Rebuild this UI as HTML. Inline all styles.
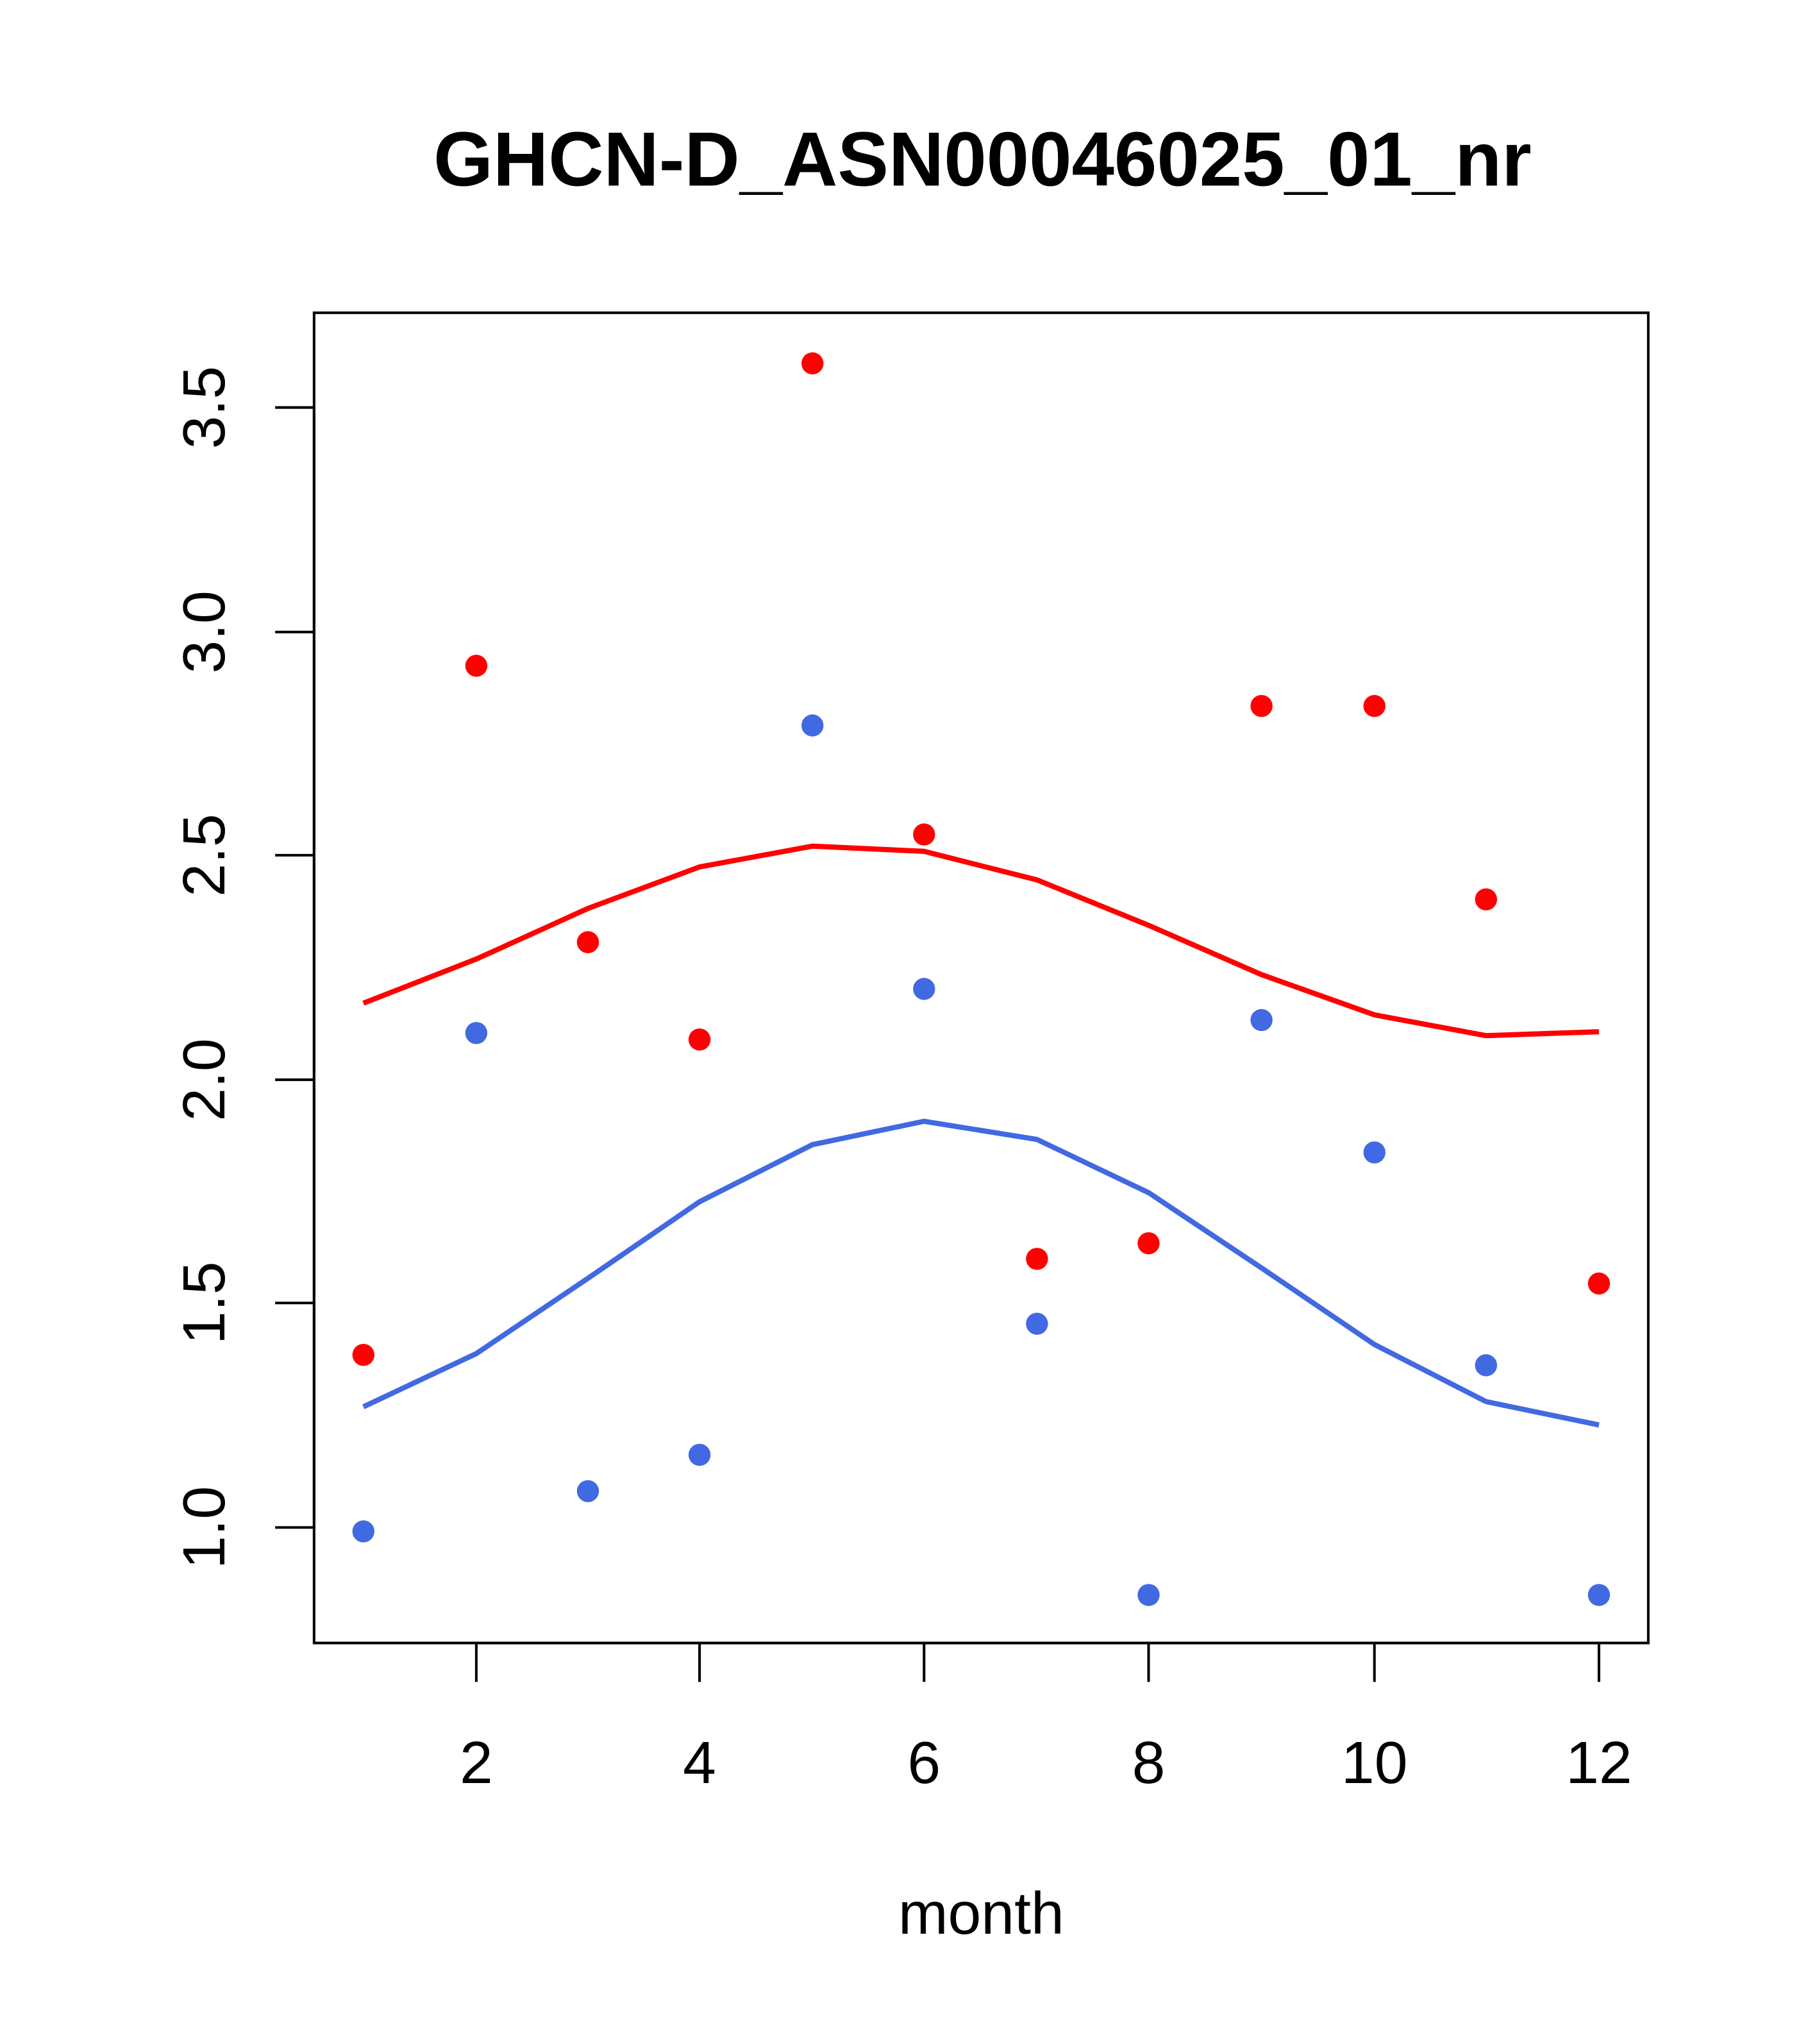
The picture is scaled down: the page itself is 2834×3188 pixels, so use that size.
<!DOCTYPE html>
<html><head><meta charset="utf-8"><style>
html,body{margin:0;padding:0;background:#fff;}
svg{display:block;}
text{font-family:"Liberation Sans",Arial,sans-serif;fill:#000;}
</style></head><body>
<svg width="2834" height="3188" viewBox="0 0 1400 1575" preserveAspectRatio="none" xmlns="http://www.w3.org/2000/svg">
<rect width="1400" height="1575" fill="#fff"/>
<text x="757" y="143" font-size="59" font-weight="bold" text-anchor="middle">GHCN-D_ASN00046025_01_nr</text>
<rect x="242" y="241" width="1028" height="1025" fill="none" stroke="#000" stroke-width="2"/>
<g stroke="#000" stroke-width="2">
<line x1="367" y1="1266" x2="1232" y2="1266"/>
<line x1="367" y1="1266" x2="367" y2="1296"/>
<line x1="539" y1="1266" x2="539" y2="1296"/>
<line x1="712" y1="1266" x2="712" y2="1296"/>
<line x1="885" y1="1266" x2="885" y2="1296"/>
<line x1="1059" y1="1266" x2="1059" y2="1296"/>
<line x1="1232" y1="1266" x2="1232" y2="1296"/>
</g>
<g font-size="46" text-anchor="middle">
<text x="367" y="1374">2</text><text x="539" y="1374">4</text><text x="712" y="1374">6</text>
<text x="885" y="1374">8</text><text x="1059" y="1374">10</text><text x="1232" y="1374">12</text>
<text x="756" y="1490">month</text>
</g>
<g stroke="#000" stroke-width="2">
<line x1="242" y1="314" x2="242" y2="1177"/>
<line x1="212" y1="314" x2="242" y2="314"/>
<line x1="212" y1="487" x2="242" y2="487"/>
<line x1="212" y1="659" x2="242" y2="659"/>
<line x1="212" y1="832" x2="242" y2="832"/>
<line x1="212" y1="1004" x2="242" y2="1004"/>
<line x1="212" y1="1177" x2="242" y2="1177"/>
</g>
<g font-size="46" text-anchor="middle">
<text transform="translate(173,314) rotate(-90)">3.5</text>
<text transform="translate(173,487) rotate(-90)">3.0</text>
<text transform="translate(173,659) rotate(-90)">2.5</text>
<text transform="translate(173,832) rotate(-90)">2.0</text>
<text transform="translate(173,1004) rotate(-90)">1.5</text>
<text transform="translate(173,1177) rotate(-90)">1.0</text>
</g>
<polyline fill="none" stroke="#ff0000" stroke-width="4" points="280,773 367,739 453,700 539,668 626,652 712,656 799,678 885,713 972,751 1059,782 1145,798 1232,795"/>
<polyline fill="none" stroke="#4169e1" stroke-width="4" points="280,1084 367,1043 453,985 539,926 626,882 712,864 799,878 885,919 972,977 1059,1036 1145,1080 1232,1098"/>
<g fill="#ff0000">
<circle cx="280" cy="1044" r="8.5"/><circle cx="367" cy="513" r="8.5"/><circle cx="453" cy="726" r="8.5"/>
<circle cx="539" cy="801" r="8.5"/><circle cx="626" cy="280" r="8.5"/><circle cx="712" cy="643" r="8.5"/>
<circle cx="799" cy="970" r="8.5"/><circle cx="885" cy="958" r="8.5"/><circle cx="972" cy="544" r="8.5"/>
<circle cx="1059" cy="544" r="8.5"/><circle cx="1145" cy="693" r="8.5"/><circle cx="1232" cy="989" r="8.5"/>
</g>
<g fill="#4169e1">
<circle cx="280" cy="1180" r="8.5"/><circle cx="367" cy="796" r="8.5"/><circle cx="453" cy="1149" r="8.5"/>
<circle cx="539" cy="1121" r="8.5"/><circle cx="626" cy="559" r="8.5"/><circle cx="712" cy="762" r="8.5"/>
<circle cx="799" cy="1020" r="8.5"/><circle cx="885" cy="1229" r="8.5"/><circle cx="972" cy="786" r="8.5"/>
<circle cx="1059" cy="888" r="8.5"/><circle cx="1145" cy="1052" r="8.5"/><circle cx="1232" cy="1229" r="8.5"/>
</g>
</svg>
</body></html>
